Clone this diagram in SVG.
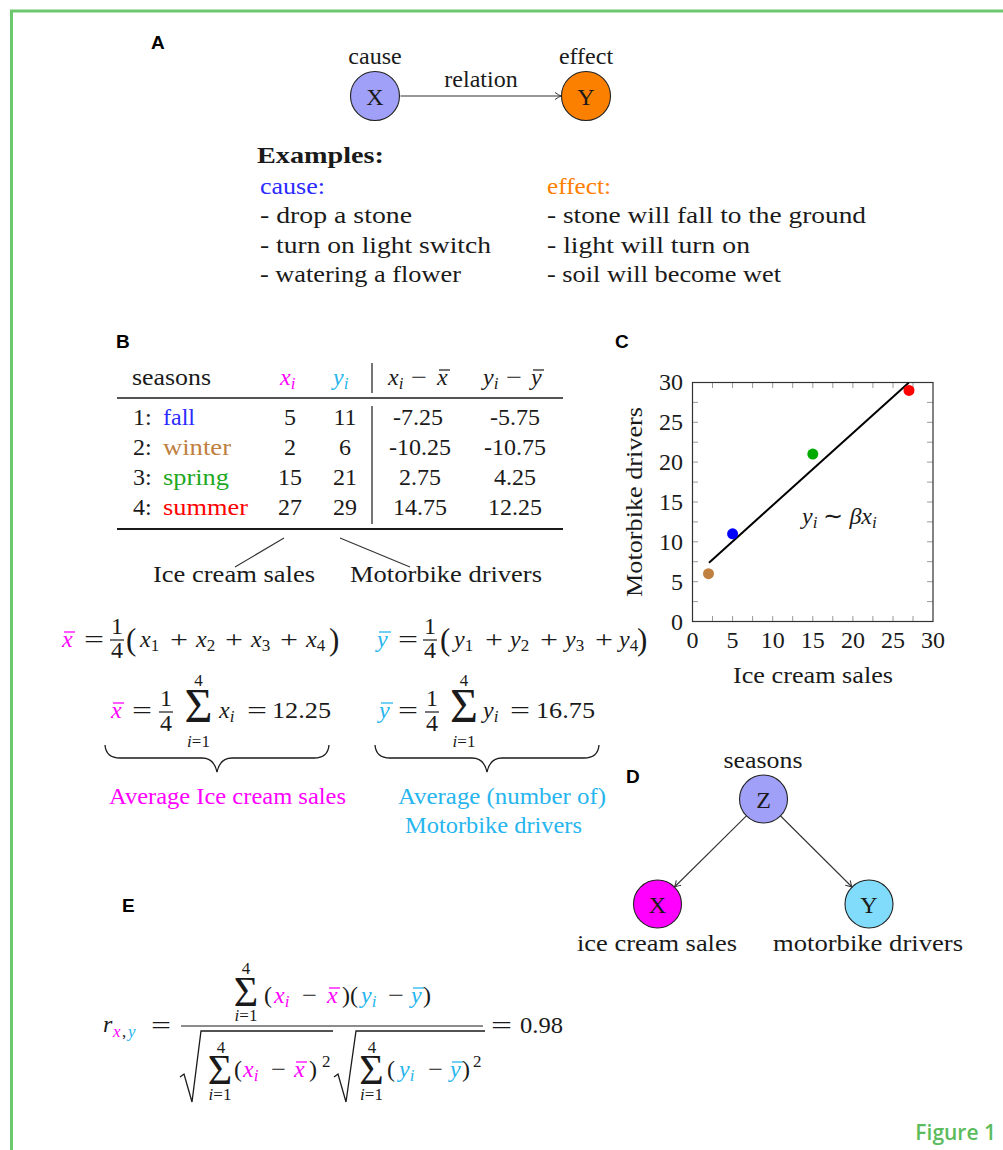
<svg xmlns="http://www.w3.org/2000/svg" width="1003" height="1150" viewBox="0 0 1003 1150">
<defs>
<style>
.t{font-family:"Liberation Serif","Times New Roman",serif;font-size:24px;fill:#1a1a1a}
.i{font-style:italic}
.u{font-style:normal}
.s{font-size:17px}
.big{font-size:48px}
.mid{font-size:42px}
.par{font-size:31px}
.lab{font-family:"Liberation Sans",Arial,sans-serif;font-weight:bold;font-size:19px;fill:#000}
.nd{stroke:#222;stroke-width:1.1}
.cn{stroke:#333;stroke-width:1.1;fill:none}
.mg{fill:#ff00ff}
.cy{fill:#27b5ee}
.bl{fill:#2b2bff}
.or{fill:#ff8000}
.br{fill:#bf8040}
.gr{fill:#1fa81f}
.rd{fill:#ff0000}
.bm{stroke:#ff00ff;stroke-width:1.3}
.bc{stroke:#27b5ee;stroke-width:1.3}
.bk{stroke:#1a1a1a;stroke-width:1.2}
.tk{stroke:#9a9a9a;stroke-width:1}
</style>
<marker id="arr" viewBox="-8 -5 10 10" refX="0" refY="0" markerWidth="10" markerHeight="10" markerUnits="userSpaceOnUse" orient="auto">
<path d="M-6,-3.5 Q-2,-0.8 0,0 Q-2,0.8 -6,3.5" fill="none" stroke="#333" stroke-width="1"/>
</marker>
</defs>
<rect x="0" y="0" width="1003" height="1150" fill="#fff"/>
<g id="frame">
<line x1="10" y1="11" x2="1003" y2="11" stroke="#6cc86c" stroke-width="3"/>
<line x1="11.5" y1="10" x2="11.5" y2="1150" stroke="#6cc86c" stroke-width="3"/>
<text x="996" y="1140" text-anchor="end" font-family="'Open Sans','Liberation Sans',sans-serif" font-weight="600" font-size="21" fill="#5cbb5c">Figure 1</text>
</g>

<!-- Panel A -->
<g id="panelA">
<text class="lab" x="151" y="49">A</text>
<g id="A-X"><circle cx="375" cy="96" r="24.5" fill="#a0a0f8" class="nd"/><text class="t" x="375" y="104.5" text-anchor="middle">X</text><text class="t" x="375" y="64" text-anchor="middle">cause</text></g>
<g id="A-Y"><circle cx="586" cy="96" r="24.5" fill="#fb8000" class="nd"/><text class="t" x="586" y="104.5" text-anchor="middle">Y</text><text class="t" x="586" y="64" text-anchor="middle">effect</text></g>
<text class="t" x="481" y="87" text-anchor="middle">relation</text>
<text class="t" x="257" y="163" font-weight="bold" textLength="127" lengthAdjust="spacingAndGlyphs">Examples:</text>
<text class="t bl" x="260" y="194" textLength="65" lengthAdjust="spacingAndGlyphs">cause:</text>
<text class="t or" x="547" y="194" textLength="64" lengthAdjust="spacingAndGlyphs">effect:</text>
<text class="t" x="260" y="223" textLength="152" lengthAdjust="spacingAndGlyphs">- drop a stone</text>
<text class="t" x="260" y="253" textLength="231" lengthAdjust="spacingAndGlyphs">- turn on light switch</text>
<text class="t" x="260" y="282" textLength="201" lengthAdjust="spacingAndGlyphs">- watering a flower</text>
<text class="t" x="547" y="223" textLength="319" lengthAdjust="spacingAndGlyphs">- stone will fall to the ground</text>
<text class="t" x="547" y="253" textLength="203" lengthAdjust="spacingAndGlyphs">- light will turn on</text>
<text class="t" x="547" y="282" textLength="234" lengthAdjust="spacingAndGlyphs">- soil will become wet</text>
</g>

<!-- Panel B -->
<g id="panelB">
<text class="lab" x="116" y="348">B</text>
<text class="t" x="132" y="385" textLength="79" lengthAdjust="spacingAndGlyphs">seasons</text>
<text class="t i mg" x="280" y="385">x<tspan class="s" dy="4">i</tspan></text>
<text class="t i cy" x="333" y="385">y<tspan class="s" dy="4">i</tspan></text>
<line x1="372" y1="363" x2="372" y2="393" class="bk"/>
<text class="t i" x="388" y="385">x<tspan class="s" dy="4">i</tspan></text>
<text class="t" x="411" y="385" textLength="16" lengthAdjust="spacingAndGlyphs">−</text>
<text class="t i" x="437" y="385">x</text>
<line x1="439" y1="370" x2="450" y2="370" class="bk"/>
<text class="t i" x="483" y="385">y<tspan class="s" dy="4">i</tspan></text>
<text class="t" x="506" y="385" textLength="16" lengthAdjust="spacingAndGlyphs">−</text>
<text class="t i" x="531" y="385">y</text>
<line x1="533" y1="370" x2="544" y2="370" class="bk"/>
<line x1="117" y1="398" x2="563" y2="398" stroke="#1a1a1a" stroke-width="1.3"/>
<line x1="372" y1="406" x2="372" y2="524" class="bk"/>
<line x1="117" y1="529" x2="563" y2="529" stroke="#1a1a1a" stroke-width="2.2"/>
<text class="t" x="133" y="425">1:</text><text class="t bl" x="163" y="425">fall</text>
<text class="t" x="133" y="455">2:</text><text class="t br" x="163" y="455" textLength="68" lengthAdjust="spacingAndGlyphs">winter</text>
<text class="t" x="133" y="485">3:</text><text class="t gr" x="163" y="485" textLength="66" lengthAdjust="spacingAndGlyphs">spring</text>
<text class="t" x="133" y="515">4:</text><text class="t rd" x="163" y="515" textLength="85" lengthAdjust="spacingAndGlyphs">summer</text>
<g class="t" text-anchor="middle">
<text x="290" y="425">5</text><text x="345" y="425">11</text><text x="418" y="425">-7.25</text><text x="515" y="425">-5.75</text>
<text x="290" y="455">2</text><text x="345" y="455">6</text><text x="420" y="455">-10.25</text><text x="515" y="455">-10.75</text>
<text x="290" y="485">15</text><text x="345" y="485">21</text><text x="420" y="485">2.75</text><text x="515" y="485">4.25</text>
<text x="290" y="515">27</text><text x="345" y="515">29</text><text x="420" y="515">14.75</text><text x="515" y="515">12.25</text>
</g>
<text class="t" x="153" y="582" textLength="162" lengthAdjust="spacingAndGlyphs">Ice cream sales</text>
<text class="t" x="350" y="582" textLength="192" lengthAdjust="spacingAndGlyphs">Motorbike drivers</text>

<!-- formula row 1 left -->
<text class="t i mg" x="62" y="647">x</text>
<line x1="64" y1="632" x2="75" y2="632" class="bm"/>
<text class="t" x="84" y="647" textLength="20" lengthAdjust="spacingAndGlyphs">=</text>
<text class="t" x="117" y="634" text-anchor="middle">1</text>
<line x1="110" y1="640" x2="124" y2="640" class="bk"/>
<text class="t" x="117" y="658" text-anchor="middle">4</text>
<text class="t par" x="126" y="650">(</text>
<text class="t i" x="140" y="647">x<tspan class="s u" dy="4">1</tspan></text>
<text class="t" x="170" y="647" textLength="18" lengthAdjust="spacingAndGlyphs">+</text>
<text class="t i" x="196" y="647">x<tspan class="s u" dy="4">2</tspan></text>
<text class="t" x="225" y="647" textLength="18" lengthAdjust="spacingAndGlyphs">+</text>
<text class="t i" x="251" y="647">x<tspan class="s u" dy="4">3</tspan></text>
<text class="t" x="280" y="647" textLength="18" lengthAdjust="spacingAndGlyphs">+</text>
<text class="t i" x="306" y="647">x<tspan class="s u" dy="4">4</tspan></text>
<text class="t par" x="329" y="650">)</text>

<!-- formula row 1 right -->
<text class="t i cy" x="377" y="647">y</text>
<line x1="379" y1="632" x2="391" y2="632" class="bc"/>
<text class="t" x="398" y="647" textLength="20" lengthAdjust="spacingAndGlyphs">=</text>
<text class="t" x="430" y="634" text-anchor="middle">1</text>
<line x1="423" y1="640" x2="437" y2="640" class="bk"/>
<text class="t" x="430" y="658" text-anchor="middle">4</text>
<text class="t par" x="440" y="650">(</text>
<text class="t i" x="454" y="647">y<tspan class="s u" dy="4">1</tspan></text>
<text class="t" x="485" y="647" textLength="18" lengthAdjust="spacingAndGlyphs">+</text>
<text class="t i" x="510" y="647">y<tspan class="s u" dy="4">2</tspan></text>
<text class="t" x="540" y="647" textLength="18" lengthAdjust="spacingAndGlyphs">+</text>
<text class="t i" x="565" y="647">y<tspan class="s u" dy="4">3</tspan></text>
<text class="t" x="595" y="647" textLength="18" lengthAdjust="spacingAndGlyphs">+</text>
<text class="t i" x="619" y="647">y<tspan class="s u" dy="4">4</tspan></text>
<text class="t par" x="637" y="650">)</text>

<!-- formula row 2 left -->
<text class="t i mg" x="111" y="718">x</text>
<line x1="113" y1="703" x2="124" y2="703" class="bm"/>
<text class="t" x="132" y="718" textLength="20" lengthAdjust="spacingAndGlyphs">=</text>
<text class="t" x="166" y="706" text-anchor="middle">1</text>
<line x1="159" y1="712" x2="173" y2="712" class="bk"/>
<text class="t" x="166" y="731" text-anchor="middle">4</text>
<text class="t big" x="198.5" y="722" text-anchor="middle">Σ</text>
<text class="t s" x="198.5" y="686" text-anchor="middle">4</text>
<text class="t s" x="198.5" y="747" text-anchor="middle"><tspan class="i">i</tspan>=1</text>
<text class="t i" x="219" y="718">x<tspan class="s" dy="4">i</tspan></text>
<text class="t" x="247" y="718" textLength="20" lengthAdjust="spacingAndGlyphs">=</text>
<text class="t" x="272" y="718" textLength="59" lengthAdjust="spacingAndGlyphs">12.25</text>

<!-- formula row 2 right -->
<text class="t i cy" x="379" y="718">y</text>
<line x1="381" y1="703" x2="393" y2="703" class="bc"/>
<text class="t" x="398" y="718" textLength="20" lengthAdjust="spacingAndGlyphs">=</text>
<text class="t" x="432" y="706" text-anchor="middle">1</text>
<line x1="425" y1="712" x2="439" y2="712" class="bk"/>
<text class="t" x="432" y="731" text-anchor="middle">4</text>
<text class="t big" x="464" y="722" text-anchor="middle">Σ</text>
<text class="t s" x="464" y="686" text-anchor="middle">4</text>
<text class="t s" x="464" y="747" text-anchor="middle"><tspan class="i">i</tspan>=1</text>
<text class="t i" x="483" y="718">y<tspan class="s" dy="4">i</tspan></text>
<text class="t" x="510" y="718" textLength="20" lengthAdjust="spacingAndGlyphs">=</text>
<text class="t" x="536" y="718" textLength="59" lengthAdjust="spacingAndGlyphs">16.75</text>

<path d="M105,745 Q106,758 120,758 L202,758 Q214,758 217,772 Q220,758 232,758 L314,758 Q328,758 329,745" fill="none" stroke="#1a1a1a" stroke-width="1.3"/>
<path d="M375,745 Q376,758 390,758 L472,758 Q484,758 487,772 Q490,758 502,758 L584,758 Q598,758 599,745" fill="none" stroke="#1a1a1a" stroke-width="1.3"/>
<text class="t mg" x="109" y="804" textLength="237" lengthAdjust="spacingAndGlyphs">Average Ice cream sales</text>
<text class="t cy" x="398" y="804" textLength="208" lengthAdjust="spacingAndGlyphs">Average (number of)</text>
<text class="t cy" x="405" y="833" textLength="177" lengthAdjust="spacingAndGlyphs">Motorbike drivers</text>
</g>

<!-- Panel C -->
<g id="panelC">
<text class="lab" x="615" y="348">C</text>
<g class="tk">
<line x1="712.5" y1="621.5" x2="712.5" y2="616"/><line x1="732.6" y1="621.5" x2="732.6" y2="616"/><line x1="752.6" y1="621.5" x2="752.6" y2="616"/><line x1="772.7" y1="621.5" x2="772.7" y2="616"/><line x1="792.7" y1="621.5" x2="792.7" y2="616"/><line x1="812.8" y1="621.5" x2="812.8" y2="616"/><line x1="832.8" y1="621.5" x2="832.8" y2="616"/><line x1="852.9" y1="621.5" x2="852.9" y2="616"/><line x1="872.9" y1="621.5" x2="872.9" y2="616"/><line x1="893" y1="621.5" x2="893" y2="616"/><line x1="913" y1="621.5" x2="913" y2="616"/>
<line x1="712.5" y1="382.5" x2="712.5" y2="388"/><line x1="732.6" y1="382.5" x2="732.6" y2="388"/><line x1="752.6" y1="382.5" x2="752.6" y2="388"/><line x1="772.7" y1="382.5" x2="772.7" y2="388"/><line x1="792.7" y1="382.5" x2="792.7" y2="388"/><line x1="812.8" y1="382.5" x2="812.8" y2="388"/><line x1="832.8" y1="382.5" x2="832.8" y2="388"/><line x1="852.9" y1="382.5" x2="852.9" y2="388"/><line x1="872.9" y1="382.5" x2="872.9" y2="388"/><line x1="893" y1="382.5" x2="893" y2="388"/><line x1="913" y1="382.5" x2="913" y2="388"/>
<line x1="692.5" y1="601.6" x2="698" y2="601.6"/><line x1="692.5" y1="581.7" x2="698" y2="581.7"/><line x1="692.5" y1="561.7" x2="698" y2="561.7"/><line x1="692.5" y1="541.8" x2="698" y2="541.8"/><line x1="692.5" y1="521.9" x2="698" y2="521.9"/><line x1="692.5" y1="502" x2="698" y2="502"/><line x1="692.5" y1="482.1" x2="698" y2="482.1"/><line x1="692.5" y1="462.1" x2="698" y2="462.1"/><line x1="692.5" y1="442.2" x2="698" y2="442.2"/><line x1="692.5" y1="422.3" x2="698" y2="422.3"/><line x1="692.5" y1="402.4" x2="698" y2="402.4"/>
<line x1="933" y1="601.6" x2="927" y2="601.6"/><line x1="933" y1="581.7" x2="927" y2="581.7"/><line x1="933" y1="561.7" x2="927" y2="561.7"/><line x1="933" y1="541.8" x2="927" y2="541.8"/><line x1="933" y1="521.9" x2="927" y2="521.9"/><line x1="933" y1="502" x2="927" y2="502"/><line x1="933" y1="482.1" x2="927" y2="482.1"/><line x1="933" y1="462.1" x2="927" y2="462.1"/><line x1="933" y1="442.2" x2="927" y2="442.2"/><line x1="933" y1="422.3" x2="927" y2="422.3"/><line x1="933" y1="402.4" x2="927" y2="402.4"/>
</g>
<rect x="692.5" y="382.5" width="240.5" height="239" fill="none" stroke="#333" stroke-width="1.2"/>
<line x1="709" y1="562.7" x2="908.7" y2="382.7" stroke="#000" stroke-width="2"/>
<circle cx="708.5" cy="573.7" r="5.5" fill="#c08040"/>
<circle cx="732.6" cy="533.8" r="5.5" fill="#0000ff"/>
<circle cx="812.8" cy="454.1" r="5.5" fill="#00aa00"/>
<circle cx="909" cy="390.4" r="5.5" fill="#ff0000"/>
<g class="t" text-anchor="end">
<text x="683" y="629.5">0</text><text x="683" y="589.7">5</text><text x="683" y="549.8">10</text><text x="683" y="510">15</text><text x="683" y="470.1">20</text><text x="683" y="430.3">25</text><text x="683" y="390.4">30</text>
</g>
<g class="t" text-anchor="middle">
<text x="692.5" y="648">0</text><text x="732.6" y="648">5</text><text x="772.7" y="648">10</text><text x="812.8" y="648">15</text><text x="852.9" y="648">20</text><text x="893" y="648">25</text><text x="933" y="648">30</text>
</g>
<text class="t" x="733" y="683" textLength="160" lengthAdjust="spacingAndGlyphs">Ice cream sales</text>
<text class="t" transform="translate(642,502) rotate(-90)" x="0" y="0" text-anchor="middle" textLength="190" lengthAdjust="spacingAndGlyphs">Motorbike drivers</text>
<text class="t i" x="802" y="524">y<tspan class="s" dy="4">i</tspan><tspan class="u" dy="-4"> ∼ </tspan>βx<tspan class="s" dy="4">i</tspan></text>
</g>

<!-- Panel D -->
<g id="panelD">
<text class="lab" x="626" y="783">D</text>
<g id="D-Z"><circle cx="763.5" cy="799" r="24" fill="#a0a0f8" class="nd"/><text class="t" x="763.5" y="807.5" text-anchor="middle">Z</text><text class="t" x="763" y="768" text-anchor="middle" textLength="79" lengthAdjust="spacingAndGlyphs">seasons</text></g>
<g id="D-X"><circle cx="657.5" cy="904" r="24" fill="#ff00ff" class="nd"/><text class="t" x="657.5" y="912.5" text-anchor="middle">X</text><text class="t" x="657" y="951" text-anchor="middle" textLength="160" lengthAdjust="spacingAndGlyphs">ice cream sales</text></g>
<g id="D-Y"><circle cx="869" cy="904" r="24" fill="#80dcfa" class="nd"/><text class="t" x="869" y="912.5" text-anchor="middle">Y</text><text class="t" x="868" y="951" text-anchor="middle" textLength="190" lengthAdjust="spacingAndGlyphs">motorbike drivers</text></g>
</g>

<g id="connectors">
<line x1="400.5" y1="96" x2="561" y2="96" class="cn" marker-end="url(#arr)"/>
<line x1="284" y1="538" x2="235" y2="567" class="cn"/>
<line x1="340" y1="538" x2="410" y2="567" class="cn"/>
<line x1="746.4" y1="815.9" x2="674.5" y2="887" class="cn" marker-end="url(#arr)"/>
<line x1="780.6" y1="816" x2="852" y2="887" class="cn" marker-end="url(#arr)"/>
</g>

<!-- Panel E -->
<g id="panelE">
<text class="lab" x="122" y="912">E</text>
<text class="t i" x="103" y="1032">r</text>
<text class="t i s mg" x="113" y="1037">x</text>
<text class="t s" x="122" y="1037">,</text>
<text class="t i s cy" x="128" y="1037">y</text>
<text class="t" x="151" y="1033" textLength="20" lengthAdjust="spacingAndGlyphs">=</text>
<line x1="181" y1="1026" x2="483" y2="1026" class="bk"/>
<!-- numerator -->
<text class="t mid" x="246" y="1006" text-anchor="middle">Σ</text>
<text class="t s" x="246" y="974" text-anchor="middle">4</text>
<text class="t s" x="246" y="1021" text-anchor="middle"><tspan class="i">i</tspan>=1</text>
<text class="t" x="264" y="1003">(</text>
<text class="t i mg" x="274" y="1003">x<tspan class="s" dy="4">i</tspan></text>
<text class="t" x="302" y="1003" textLength="15" lengthAdjust="spacingAndGlyphs">−</text>
<text class="t i mg" x="327" y="1003">x</text>
<line x1="329" y1="988" x2="340" y2="988" class="bm"/>
<text class="t" x="342" y="1003">)(</text>
<text class="t i cy" x="361" y="1003">y<tspan class="s" dy="4">i</tspan></text>
<text class="t" x="388" y="1003" textLength="16" lengthAdjust="spacingAndGlyphs">−</text>
<text class="t i cy" x="411" y="1003">y</text>
<line x1="413" y1="988" x2="424" y2="988" class="bc"/>
<text class="t" x="423" y="1003">)</text>
<!-- denominator -->
<path d="M180,1077 L184,1074 L192,1102 L201,1031 L333,1031" fill="none" stroke="#1a1a1a" stroke-width="1.3"/>
<path d="M334,1077 L338,1074 L346,1102 L356,1031 L485,1031" fill="none" stroke="#1a1a1a" stroke-width="1.3"/>
<text class="t mid" x="220" y="1084" text-anchor="middle">Σ</text>
<text class="t s" x="221" y="1053" text-anchor="middle">4</text>
<text class="t s" x="220" y="1100" text-anchor="middle"><tspan class="i">i</tspan>=1</text>
<text class="t" x="234" y="1077">(</text>
<text class="t i mg" x="243" y="1077">x<tspan class="s" dy="4">i</tspan></text>
<text class="t" x="271" y="1077" textLength="15" lengthAdjust="spacingAndGlyphs">−</text>
<text class="t i mg" x="294" y="1077">x</text>
<line x1="296" y1="1062" x2="307" y2="1062" class="bm"/>
<text class="t" x="309" y="1077">)</text>
<text class="t s" x="322" y="1067">2</text>
<text class="t mid" x="371.5" y="1084" text-anchor="middle">Σ</text>
<text class="t s" x="372" y="1053" text-anchor="middle">4</text>
<text class="t s" x="371.5" y="1100" text-anchor="middle"><tspan class="i">i</tspan>=1</text>
<text class="t" x="387" y="1077">(</text>
<text class="t i cy" x="399" y="1077">y<tspan class="s" dy="4">i</tspan></text>
<text class="t" x="428" y="1077" textLength="15" lengthAdjust="spacingAndGlyphs">−</text>
<text class="t i cy" x="450" y="1077">y</text>
<line x1="452" y1="1062" x2="463" y2="1062" class="bc"/>
<text class="t" x="462" y="1077">)</text>
<text class="t s" x="473" y="1067">2</text>
<text class="t" x="491" y="1033" textLength="21" lengthAdjust="spacingAndGlyphs">=</text>
<text class="t" x="520" y="1033" textLength="43" lengthAdjust="spacingAndGlyphs">0.98</text>
</g>
</svg>
